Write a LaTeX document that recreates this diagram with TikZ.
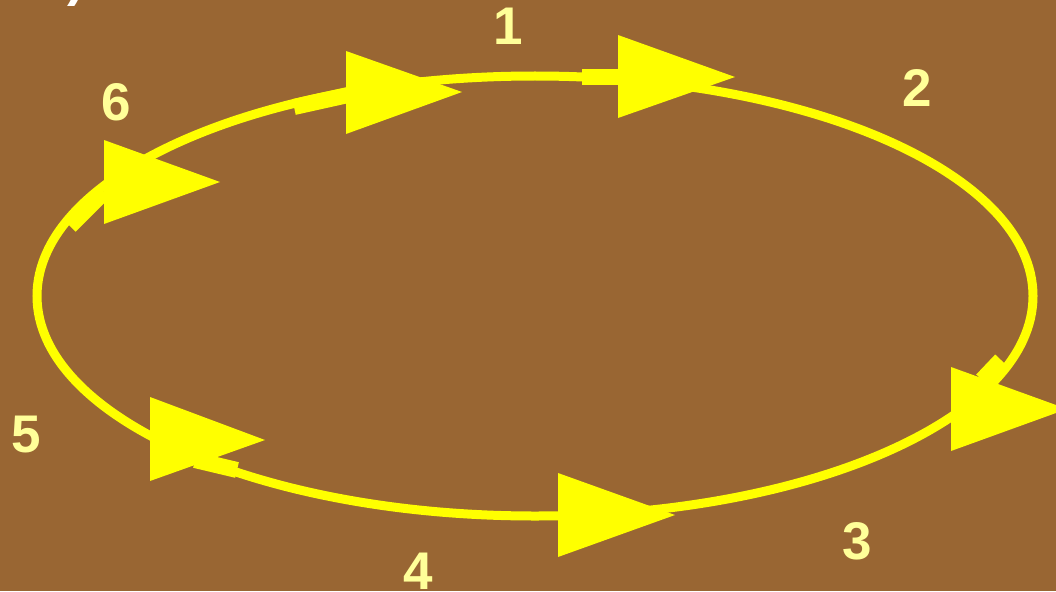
\documentclass[tikz,border=0pt]{standalone}
\usepackage{fontspec}
\setmainfont{Liberation Sans}
\definecolor{bark}{HTML}{996633}
\definecolor{lemon}{HTML}{FFFF00}
\definecolor{cream}{HTML}{FFFF99}
\begin{document}
\begin{tikzpicture}[x=1pt,y=-1pt,
  num/.style={text=cream,font=\fontsize{53}{60}\selectfont\bfseries,inner sep=0pt},
  loop/.style={draw=lemon,line width=9pt},
  stub/.style={draw=lemon,line width=16pt},
  tri/.style={fill=lemon}]
\fill[bark] (0,0) rectangle (1056,591);
\useasboundingbox (0,0) rectangle (1056,591);

\node[text=white,font=\fontsize{53}{60}\selectfont\bfseries,anchor=base] (corner) at (76,-4) {)};

\draw[loop] (535,296) ellipse [x radius=498,y radius=220];

\draw[stub] (294,107) -- (348,95);
\draw[stub] (582,77) -- (618,77);
\draw[stub] (1001,360) -- (982,380);
\draw[stub] (195,460) -- (237,470);
\draw[stub] (70,226) -- (104,192);

\fill[tri] (346,51) -- (346,134) -- (462,92) -- cycle;
\fill[tri] (618,35) -- (618,118) -- (735,77) -- cycle;
\fill[tri] (951,367) -- (951,451) -- (1067,409) -- cycle;
\fill[tri] (558,473) -- (558,557) -- (675,515) -- cycle;
\fill[tri] (150,397) -- (150,481) -- (265,440) -- cycle;
\fill[tri] (104,140) -- (104,224) -- (220,182) -- cycle;

\node[num] (n1) at (508,26) {1};
\node[num] (n2) at (917,88) {2};
\node[num] (n3) at (857,541) {3};
\node[num] (n4) at (418,571) {4};
\node[num] (n5) at (26,435) {5};
\node[num] (n6) at (116,102) {6};

\end{tikzpicture}
\end{document}
